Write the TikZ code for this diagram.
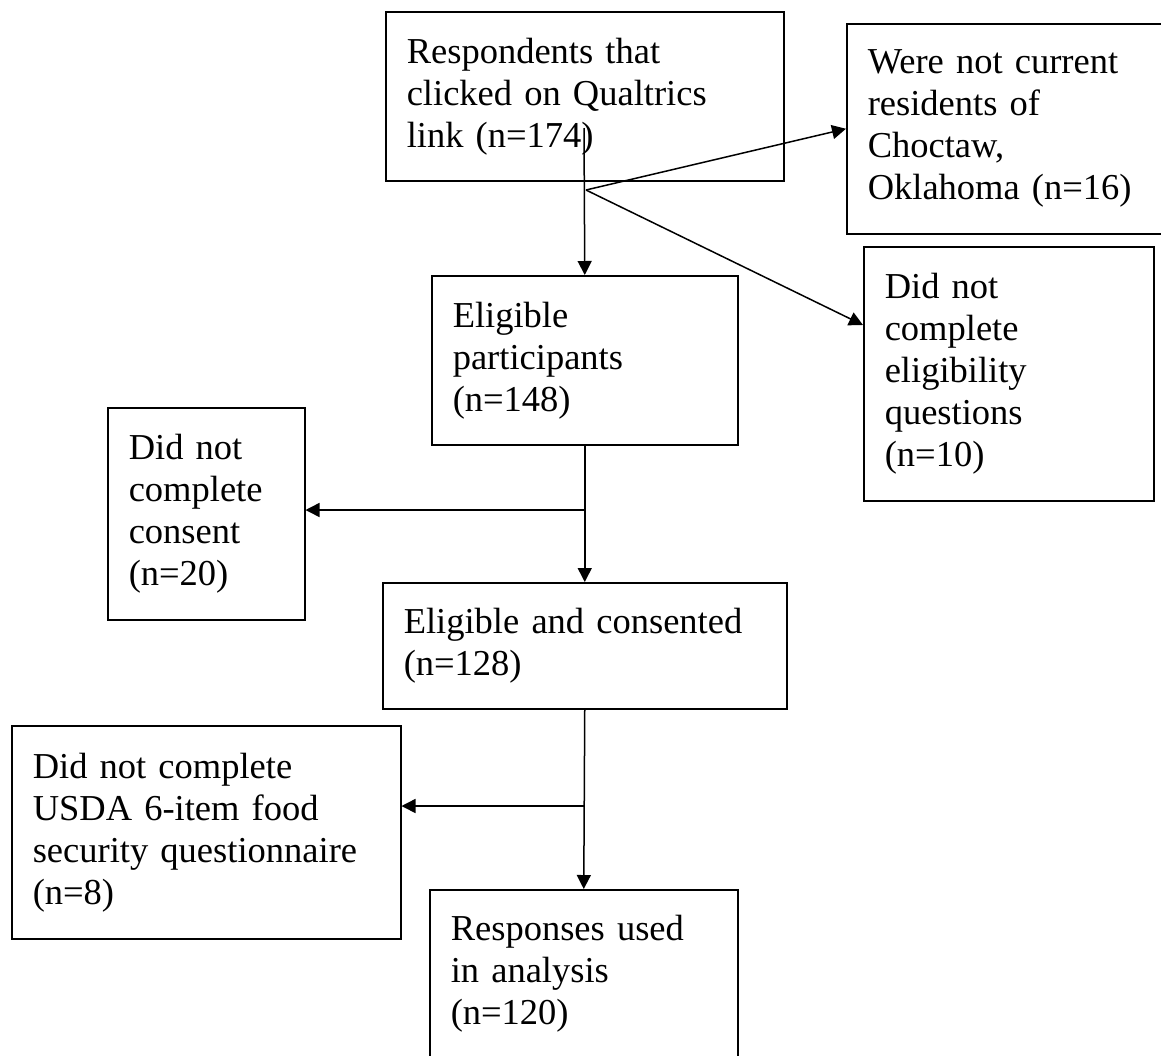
\documentclass[tikz,border=0pt]{standalone}
\usepackage{fontspec}
\setmainfont{Liberation Serif}
\usetikzlibrary{arrows.meta}
\begin{document}
\begin{tikzpicture}[x=1pt,y=-1pt,
  box/.style={draw, line width=1.5pt, anchor=north west, align=left,
    inner xsep=21pt, inner ysep=0pt, font=\fontsize{36.5}{42}\selectfont},
  conn/.style={line width=1.5pt, -{Triangle[length=14pt,width=14pt]}}]
\useasboundingbox (0,0) rectangle (1161,1055);
\clip (0,0) rectangle (1161,1055);

\node[box, text width=356pt, minimum height=169pt] (resp) at (385,11)
  {Respondents that\\clicked on Qualtrics\\link (n=174)};
\node[box, text width=287pt, minimum height=210pt] (were) at (846,23)
  {Were not current\\residents of\\Choctaw,\\Oklahoma (n=16)};
\node[box, text width=264pt, minimum height=169pt] (elig) at (431,275)
  {Eligible\\participants\\(n=148)};
\node[box, text width=248pt, minimum height=254pt] (inelig) at (863,246)
  {Did not\\complete\\eligibility\\questions\\(n=10)};
\node[box, text width=155pt, minimum height=212pt] (consent) at (107,407)
  {Did not\\complete\\consent\\(n=20)};
\node[box, text width=362pt, minimum height=126pt] (ec) at (382,582)
  {Eligible and consented\\(n=128)};
\node[box, text width=347pt, minimum height=213pt] (usda) at (11,725)
  {Did not complete\\USDA 6-item food\\security questionnaire\\(n=8)};
\node[box, text width=266pt, minimum height=168pt] (final) at (429,889)
  {Responses used\\in analysis\\(n=120)};

\coordinate (s1) at (584,128);
\coordinate (b1) at (586,190);
\coordinate (b2) at (584,510);
\coordinate (b3) at (584,806);

\draw[conn] (s1) -- (elig.north);
\draw[conn] (b1) -- (were.west);
\draw[conn] (b1) -- ([yshift=-79pt]inelig.north west);
\draw[conn] (elig.south) -- (ec.north);
\draw[conn] (b2) -- (b2 -| consent.east);
\draw[conn] (ec.south) -- (final.north);
\draw[conn] (b3) -- (b3 -| usda.east);
\end{tikzpicture}
\end{document}
